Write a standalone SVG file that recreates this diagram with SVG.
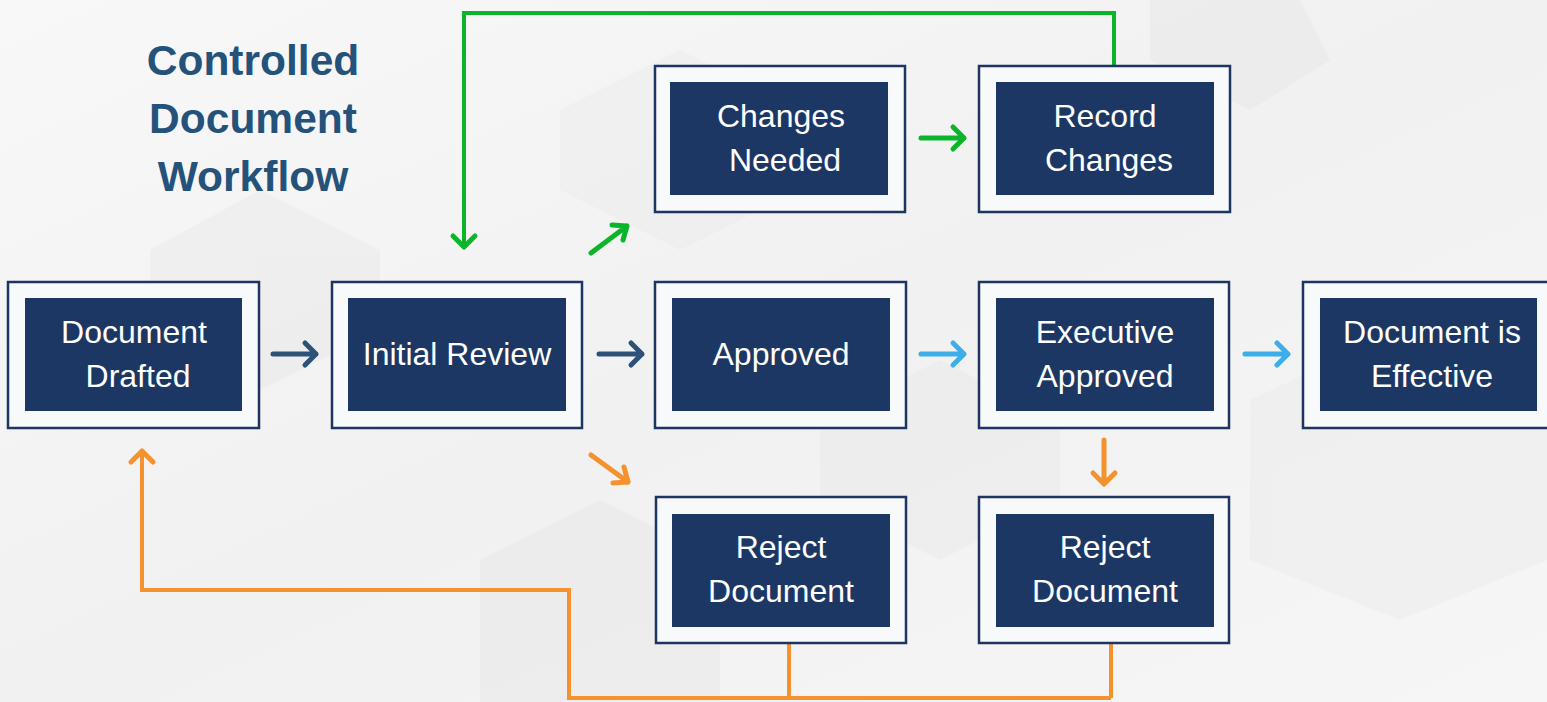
<svg xmlns="http://www.w3.org/2000/svg" width="1547" height="702" viewBox="0 0 1547 702">
<defs>
<style>
.outer{fill:#f8f9fb;stroke:#1c3561;stroke-width:2.5}
.inner{fill:#1c3764}
.lbl{font-family:"Liberation Sans",Arial,sans-serif;font-size:32px;fill:#ffffff;text-anchor:middle}
.title{font-family:"Liberation Sans",Arial,sans-serif;font-size:42.5px;font-weight:bold;fill:#24527a;text-anchor:middle}
.ar{fill:none;stroke-width:5;stroke-linecap:round;stroke-linejoin:round}
.dk{stroke:#2c5278}
.lb{stroke:#3daee9}
.gr{stroke:#0bb52a}
.or{stroke:#f4922e}
.ln{fill:none;stroke-width:4}
</style>
<linearGradient id="bg" x1="0" y1="0" x2="1" y2="1">
<stop offset="0" stop-color="#f8f8f8"/>
<stop offset="0.5" stop-color="#f1f1f1"/>
<stop offset="1" stop-color="#f6f6f6"/>
</linearGradient>
</defs>
<rect width="1547" height="702" fill="url(#bg)"/>
<g opacity="0.35">
<polygon points="150,250 260,190 380,250 380,330 260,390 150,330" fill="#e4e4e4"/>
<polygon points="480,560 600,500 720,560 720,702 480,702" fill="#e2e2e2"/>
<polygon points="820,420 940,360 1060,420 1060,500 940,560 820,500" fill="#e6e6e6"/>
<polygon points="1150,0 1300,0 1330,60 1250,110 1150,60" fill="#e3e3e3"/>
<polygon points="560,110 680,50 800,110 800,190 680,250 560,190" fill="#e8e8e8"/>
<polygon points="1250,400 1400,330 1547,400 1547,560 1400,620 1250,560" fill="#e8e8e8"/>
</g>
<text class="title" x="253" y="75">Controlled</text>
<text class="title" x="253" y="133">Document</text>
<text class="title" x="253" y="191">Workflow</text>
<g id="connectors">
<path class="ar dk" d="M273,354 H316 M305,343 L316,354 L305,365"/>
<path class="ar dk" d="M599,354 H642 M631,343 L642,354 L631,365"/>
<path class="ar lb" d="M921,354 H964 M953,343 L964,354 L953,365"/>
<path class="ar lb" d="M1245,354 H1288 M1277,343 L1288,354 L1277,365"/>
<path class="ar gr" d="M921,138 H964 M953,127 L964,138 L953,149"/>
<path class="ar gr" d="M591,253 L627,226 M612,225 L627,226 L623,240"/>
<path class="ar or" d="M591,455 L628,482 M624,467 L628,482 L613,483"/>
<path class="ar or" d="M1104,440 V484 M1093,473 L1104,484 L1115,473"/>
<path class="ln gr" d="M1114,66 V13 H464 V247"/>
<path class="ar gr" d="M453,236 L464,247 L475,236"/>
<path class="ln or" d="M789,643 V698 M1111,643 V698 M1111,698 H569 V590 H142 V451"/>
<path class="ar or" d="M131,462 L142,451 L153,462"/>
</g>
<g id="n-drafted"><rect class="outer" x="8" y="282" width="251" height="146"/><rect class="inner" x="25" y="298" width="217" height="113"/><text class="lbl" x="134" y="343">Document</text><text class="lbl" x="138" y="387">Drafted</text></g>
<g id="n-review"><rect class="outer" x="332" y="282" width="250" height="146"/><rect class="inner" x="348" y="298" width="218" height="113"/><text class="lbl" x="457" y="365">Initial Review</text></g>
<g id="n-approved"><rect class="outer" x="655" y="282" width="251" height="146"/><rect class="inner" x="672" y="298" width="218" height="113"/><text class="lbl" x="781" y="365">Approved</text></g>
<g id="n-exec"><rect class="outer" x="979" y="282" width="250" height="146"/><rect class="inner" x="996" y="298" width="218" height="113"/><text class="lbl" x="1105" y="343">Executive</text><text class="lbl" x="1105" y="387">Approved</text></g>
<g id="n-effective"><rect class="outer" x="1303" y="282" width="250" height="146"/><rect class="inner" x="1320" y="298" width="217" height="113"/><text class="lbl" x="1432" y="343">Document is</text><text class="lbl" x="1432" y="387">Effective</text></g>
<g id="n-changes"><rect class="outer" x="655" y="66" width="250" height="146"/><rect class="inner" x="670" y="82" width="218" height="113"/><text class="lbl" x="781" y="127">Changes</text><text class="lbl" x="785" y="171">Needed</text></g>
<g id="n-record"><rect class="outer" x="979" y="66" width="251" height="146"/><rect class="inner" x="996" y="82" width="218" height="113"/><text class="lbl" x="1105" y="127">Record</text><text class="lbl" x="1109" y="171">Changes</text></g>
<g id="n-reject1"><rect class="outer" x="656" y="497" width="250" height="146"/><rect class="inner" x="672" y="514" width="218" height="113"/><text class="lbl" x="781" y="558">Reject</text><text class="lbl" x="781" y="602">Document</text></g>
<g id="n-reject2"><rect class="outer" x="979" y="497" width="250" height="146"/><rect class="inner" x="996" y="514" width="218" height="113"/><text class="lbl" x="1105" y="558">Reject</text><text class="lbl" x="1105" y="602">Document</text></g>
</svg>
